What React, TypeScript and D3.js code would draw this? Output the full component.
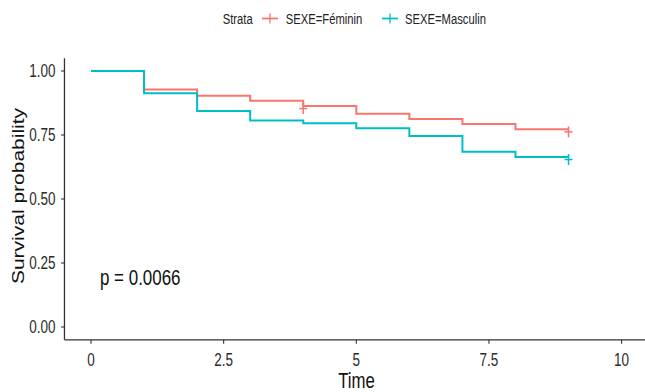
import React from "react";
import * as d3 from "d3";

const times = [0, 1, 2, 3, 4, 5, 6, 7, 8, 9];
const feminin = [1.0, 0.928, 0.903, 0.884, 0.863, 0.833, 0.8125, 0.793, 0.772, 0.772];
const masculin = [1.0, 0.913, 0.844, 0.807, 0.796, 0.776, 0.746, 0.685, 0.664, 0.664];
const feminCensorTimes = [4, 9];
const mascCensorTimes = [9];
const xTicks = [0, 2.5, 5, 7.5, 10];
const xTickLabels = ["0", "2.5", "5", "7.5", "10"];
const yTicks = [0, 0.25, 0.5, 0.75, 1];
const yTickLabels = ["0.00", "0.25", "0.50", "0.75", "1.00"];
const seriesNames = ["SEXE=Féminin", "SEXE=Masculin"];
const seriesColors = ["#F8766D", "#00BFC4"];
const pText = "p = 0.0066";

const W = 645;
const H = 392;
const FONT = "'Liberation Sans', Arial, Helvetica, sans-serif";
const SX = 0.75;

export default function App() {
  const x = d3.scaleLinear().domain([0, 10]).range([91, 621.6]);
  const y = d3.scaleLinear().domain([0, 1]).range([327, 71]);
  const [x0, x1] = [x(-0.5), x(10.5)];
  const [yB, yT] = [y(-0.05), y(1.05)];

  const line = d3
    .line<[number, number]>()
    .x((d) => x(d[0]))
    .y((d) => y(d[1]))
    .curve(d3.curveStepAfter);

  const series = [feminin, masculin].map((vals) =>
    times.map((t, i) => [t, vals[i]] as [number, number])
  );
  const censors = [feminCensorTimes, mascCensorTimes];
  const survAt = (vals: number[], t: number) => {
    let v = vals[0];
    times.forEach((tt, i) => {
      if (tt <= t) v = vals[i];
    });
    return v;
  };

  const legendItems = [
    { key: 262, text: 285.7 },
    { key: 382, text: 405 },
  ];

  return (
    <svg
      width={W}
      height={H}
      style={{ position: "absolute", left: 0, top: 0, background: "#fff" }}
      fontFamily={FONT}
    >
      <rect x={0} y={0} width={W} height={H} fill="#fff" />
      {/* legend */}
      <text transform={`translate(222.7,24) scale(${SX},1)`} fontSize={15} fill="#222">
        Strata
      </text>
      {legendItems.map((li, i) => (
        <g key={i}>
          <line x1={li.key} x2={li.key + 16} y1={18.5} y2={18.5} stroke={seriesColors[i]} strokeWidth={1.8} />
          <line x1={li.key + 8} x2={li.key + 8} y1={13.5} y2={23.5} stroke={seriesColors[i]} strokeWidth={1.3} />
          <text transform={`translate(${li.text},24) scale(${SX},1)`} fontSize={15} fill="#222">
            {seriesNames[i]}
          </text>
        </g>
      ))}

      {/* axes */}
      <line x1={x0} x2={x0} y1={yT} y2={yB} stroke="#333" strokeWidth={1.3} />
      <line x1={x0} x2={x1} y1={yB} y2={yB} stroke="#333" strokeWidth={1.3} />
      {yTicks.map((t, i) => (
        <g key={"y" + i}>
          <line x1={x0 - 3.5} x2={x0} y1={y(t)} y2={y(t)} stroke="#333" strokeWidth={1.1} />
          <text
            transform={`translate(55.5,${y(t) + 6.3}) scale(${SX},1)`}
            fontSize={18}
            textAnchor="end"
            fill="#2b2b2b"
          >
            {yTickLabels[i]}
          </text>
        </g>
      ))}
      {xTicks.map((t, i) => (
        <g key={"x" + i}>
          <line x1={x(t)} x2={x(t)} y1={yB} y2={yB + 4} stroke="#333" strokeWidth={1.1} />
          <text
            transform={`translate(${x(t)},366) scale(${SX},1)`}
            fontSize={18}
            textAnchor="middle"
            fill="#2b2b2b"
          >
            {xTickLabels[i]}
          </text>
        </g>
      ))}
      <text transform={`translate(356.5,388) scale(0.78,1)`} fontSize={21.5} textAnchor="middle" fill="#111">
        Time
      </text>
      <text
        transform={`translate(23.5,196) scale(0.8,1) rotate(-90)`}
        fontSize={21}
        textAnchor="middle"
        fill="#111"
      >
        Survival probability
      </text>

      {/* curves */}
      {series.map((s, i) => (
        <path key={"s" + i} d={line(s) || ""} fill="none" stroke={seriesColors[i]} strokeWidth={2} />
      ))}
      {censors.map((cs, i) =>
        cs.map((t, j) => {
          const vals = i === 0 ? feminin : masculin;
          const cx = x(t);
          const cy = y(survAt(vals, t)) + 2.5;
          return (
            <g key={`c${i}-${j}`} stroke={seriesColors[i]} strokeWidth={1.5}>
              <line x1={cx - 4} x2={cx + 4} y1={cy} y2={cy} />
              <line x1={cx} x2={cx} y1={cy - 5.5} y2={cy + 5.5} />
            </g>
          );
        })
      )}

      <text transform={`translate(100,285) scale(0.77,1)`} fontSize={22} fill="#111">
        {pText}
      </text>
    </svg>
  );
}
